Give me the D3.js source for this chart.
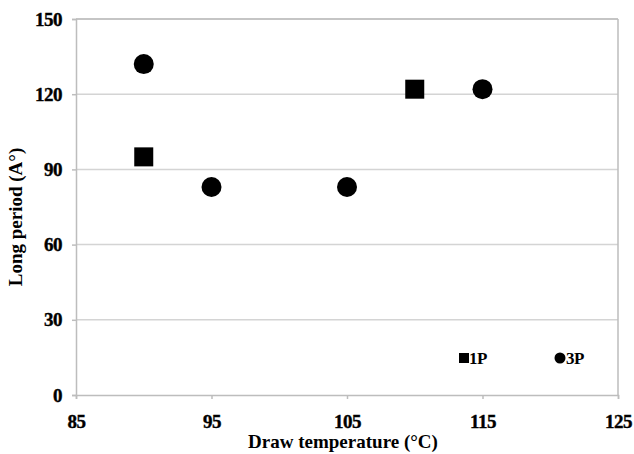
<!DOCTYPE html>
<html>
<head>
<meta charset="utf-8">
<script src="https://cdn.jsdelivr.net/npm/d3@7"></script>
<style>
  body { margin: 0; background: #fff; }
  svg text { font-family: "Liberation Serif", "Times New Roman", serif; font-weight: bold; fill: #000; }
</style>
</head>
<body>
<div id="chart"></div>
<script>
// data
const temp1P = [90, 110];
const period1P = [95, 122];
const temp3P = [90, 95, 105, 115];
const period3P = [132, 83, 83, 122];
const xTicks = [85, 95, 105, 115, 125];
const yTicks = [0, 30, 60, 90, 120, 150];

const width = 634, height = 454;
const margin = { top: 19, right: 16, bottom: 59, left: 76 };

const svg = d3.select("#chart").append("svg")
  .attr("width", width)
  .attr("height", height);

const x = d3.scaleLinear().domain([85, 125]).range([margin.left, width - margin.right]);
const y = d3.scaleLinear().domain([0, 150]).range([height - margin.bottom, margin.top]);

// gridlines
svg.append("g")
  .selectAll("line")
  .data(yTicks.filter(d => d > 0))
  .join("line")
    .attr("x1", x(85)).attr("x2", x(125))
    .attr("y1", d => y(d)).attr("y2", d => y(d))
    .attr("stroke", "#d4d4d4")
    .attr("stroke-width", 1.5);

// plot box (right side)
svg.append("line")
  .attr("x1", x(125)).attr("x2", x(125))
  .attr("y1", y(150)).attr("y2", y(0))
  .attr("stroke", "#bdbdbd").attr("stroke-width", 1.5);

// axes
const xAxis = svg.append("g")
  .attr("transform", `translate(0,${y(0)})`)
  .call(d3.axisBottom(x).tickValues(xTicks).tickSize(4).tickPadding(16));
const yAxis = svg.append("g")
  .attr("transform", `translate(${x(85)},0)`)
  .call(d3.axisLeft(y).tickValues(yTicks).tickSize(4).tickPadding(10));

[xAxis, yAxis].forEach(a => {
  a.select(".domain").attr("stroke", "#bdbdbd").attr("stroke-width", 1.5);
  a.selectAll(".tick line").attr("stroke", "#bdbdbd").attr("stroke-width", 1.5);
  a.selectAll(".tick text")
    .attr("fill", "#000")
    .attr("stroke", "#000")
    .attr("stroke-width", 0.4)
    .style("font-family", "'Liberation Serif', serif")
    .style("font-weight", "bold")
    .style("font-size", "19px")
    .style("letter-spacing", "-0.5px");
});
// top border
svg.append("line")
  .attr("x1", x(85)).attr("x2", x(125))
  .attr("y1", y(150)).attr("y2", y(150))
  .attr("stroke", "#bdbdbd").attr("stroke-width", 1.5);

// 1P squares
const sq = 19;
svg.append("g")
  .selectAll("rect")
  .data(d3.zip(temp1P, period1P))
  .join("rect")
    .attr("x", d => x(d[0]) - sq / 2)
    .attr("y", d => y(d[1]) - sq / 2)
    .attr("width", sq).attr("height", sq)
    .attr("fill", "#000");

// 3P circles
svg.append("g")
  .selectAll("circle")
  .data(d3.zip(temp3P, period3P))
  .join("circle")
    .attr("cx", d => x(d[0]))
    .attr("cy", d => y(d[1]))
    .attr("r", 10)
    .attr("fill", "#000");

// legend
const legend = svg.append("g").attr("transform", "translate(0,358)");
legend.append("rect").attr("x", 459).attr("y", -5).attr("width", 10).attr("height", 10).attr("fill", "#000");
legend.append("text").attr("x", 469).attr("y", 6).style("font-size", "17px").style("letter-spacing", "-0.5px").text("1P");
legend.append("circle").attr("cx", 560).attr("cy", 0).attr("r", 5.5).attr("fill", "#000");
legend.append("text").attr("x", 566).attr("y", 6).style("font-size", "17px").style("letter-spacing", "-0.5px").text("3P");

// axis titles
svg.append("text")
  .attr("x", 343)
  .attr("y", 448)
  .attr("text-anchor", "middle")
  .style("font-size", "19px")
  .text("Draw temperature (°C)");

svg.append("text")
  .attr("transform", `translate(22,217) rotate(-90)`)
  .attr("text-anchor", "middle")
  .style("font-size", "19px")
  .text("Long period (A°)");
</script>
</body>
</html>
